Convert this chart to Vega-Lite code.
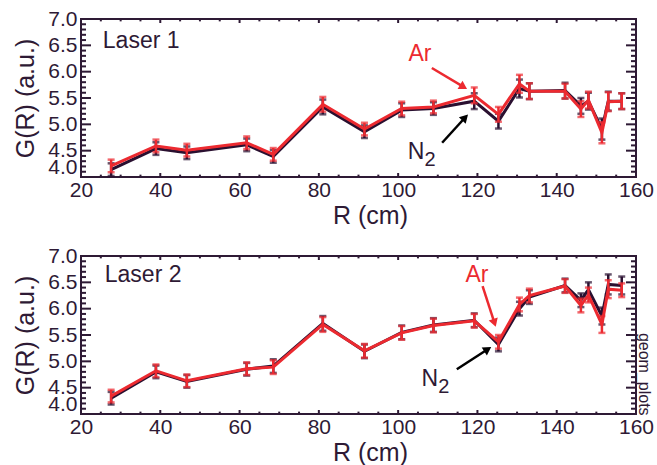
{
  "$schema": "https://vega.github.io/schema/vega-lite/v6.json",
  "background": "white",
  "padding": {"left": 12, "top": 7, "right": 0, "bottom": 0},
  "bounds": "flush",
  "spacing": 79,
  "config": {
    "view": {"stroke": "#2e1a35", "strokeWidth": 2},
    "font": "Liberation Sans",
    "axis": {"grid": false, "domain": false, "ticks": false, "labelFont": "Liberation Sans", "labelFontSize": 21, "labelColor": "#2e1a35", "titleFont": "Liberation Sans", "titleFontWeight": "normal", "titleColor": "#2e1a35", "labelFlush": false, "labelOverlap": false},
    "text": {"font": "Liberation Sans"}
  },
  "datasets": {
    "pts": [
      {"laser":"1","gas":"Ar","R":27.6,"G":4.21,"err":0.12},{"laser":"1","gas":"Ar","R":38.9,"G":4.59,"err":0.12},{"laser":"1","gas":"Ar","R":46.7,"G":4.51,"err":0.12},{"laser":"1","gas":"Ar","R":61.8,"G":4.65,"err":0.12},{"laser":"1","gas":"Ar","R":68.5,"G":4.43,"err":0.12},{"laser":"1","gas":"Ar","R":81.0,"G":5.38,"err":0.14},{"laser":"1","gas":"Ar","R":91.5,"G":4.91,"err":0.12},{"laser":"1","gas":"Ar","R":100.9,"G":5.30,"err":0.13},{"laser":"1","gas":"Ar","R":108.9,"G":5.33,"err":0.12},{"laser":"1","gas":"Ar","R":119.2,"G":5.55,"err":0.15},{"laser":"1","gas":"Ar","R":125.3,"G":5.19,"err":0.14},{"laser":"1","gas":"Ar","R":130.6,"G":5.77,"err":0.17},{"laser":"1","gas":"Ar","R":133.1,"G":5.63,"err":0.15},{"laser":"1","gas":"Ar","R":142.1,"G":5.63,"err":0.14},{"laser":"1","gas":"Ar","R":146.1,"G":5.29,"err":0.15},{"laser":"1","gas":"Ar","R":148.0,"G":5.46,"err":0.16},{"laser":"1","gas":"Ar","R":151.4,"G":4.84,"err":0.2},{"laser":"1","gas":"Ar","R":153.0,"G":5.43,"err":0.18},{"laser":"1","gas":"Ar","R":156.4,"G":5.44,"err":0.15},
      {"laser":"1","gas":"N2","R":27.6,"G":4.14,"err":0.12},{"laser":"1","gas":"N2","R":38.9,"G":4.54,"err":0.12},{"laser":"1","gas":"N2","R":46.7,"G":4.46,"err":0.12},{"laser":"1","gas":"N2","R":61.8,"G":4.61,"err":0.12},{"laser":"1","gas":"N2","R":68.5,"G":4.39,"err":0.12},{"laser":"1","gas":"N2","R":81.0,"G":5.33,"err":0.14},{"laser":"1","gas":"N2","R":91.5,"G":4.86,"err":0.12},{"laser":"1","gas":"N2","R":100.9,"G":5.27,"err":0.13},{"laser":"1","gas":"N2","R":108.9,"G":5.30,"err":0.12},{"laser":"1","gas":"N2","R":119.2,"G":5.44,"err":0.15},{"laser":"1","gas":"N2","R":125.3,"G":5.06,"err":0.14},{"laser":"1","gas":"N2","R":130.6,"G":5.68,"err":0.17},{"laser":"1","gas":"N2","R":133.1,"G":5.63,"err":0.15},{"laser":"1","gas":"N2","R":142.1,"G":5.64,"err":0.15},{"laser":"1","gas":"N2","R":146.1,"G":5.35,"err":0.15},{"laser":"1","gas":"N2","R":148.0,"G":5.44,"err":0.16},{"laser":"1","gas":"N2","R":151.4,"G":4.91,"err":0.2},{"laser":"1","gas":"N2","R":153.0,"G":5.44,"err":0.18},{"laser":"1","gas":"N2","R":156.4,"G":5.44,"err":0.15},
      {"laser":"2","gas":"Ar","R":27.6,"G":4.34,"err":0.12},{"laser":"2","gas":"Ar","R":38.9,"G":4.82,"err":0.12},{"laser":"2","gas":"Ar","R":46.7,"G":4.63,"err":0.12},{"laser":"2","gas":"Ar","R":61.8,"G":4.86,"err":0.12},{"laser":"2","gas":"Ar","R":68.5,"G":4.89,"err":0.13},{"laser":"2","gas":"Ar","R":81.0,"G":5.70,"err":0.14},{"laser":"2","gas":"Ar","R":91.5,"G":5.20,"err":0.13},{"laser":"2","gas":"Ar","R":100.9,"G":5.54,"err":0.13},{"laser":"2","gas":"Ar","R":108.9,"G":5.68,"err":0.13},{"laser":"2","gas":"Ar","R":119.2,"G":5.77,"err":0.13},{"laser":"2","gas":"Ar","R":125.3,"G":5.37,"err":0.13},{"laser":"2","gas":"Ar","R":130.6,"G":6.08,"err":0.13},{"laser":"2","gas":"Ar","R":133.1,"G":6.25,"err":0.13},{"laser":"2","gas":"Ar","R":142.1,"G":6.43,"err":0.13},{"laser":"2","gas":"Ar","R":146.1,"G":6.06,"err":0.13},{"laser":"2","gas":"Ar","R":148.0,"G":6.26,"err":0.14},{"laser":"2","gas":"Ar","R":151.4,"G":5.70,"err":0.16},{"laser":"2","gas":"Ar","R":153.0,"G":6.37,"err":0.17},{"laser":"2","gas":"Ar","R":156.4,"G":6.35,"err":0.13},
      {"laser":"2","gas":"N2","R":27.6,"G":4.30,"err":0.12},{"laser":"2","gas":"N2","R":38.9,"G":4.80,"err":0.12},{"laser":"2","gas":"N2","R":46.7,"G":4.62,"err":0.12},{"laser":"2","gas":"N2","R":61.8,"G":4.85,"err":0.12},{"laser":"2","gas":"N2","R":68.5,"G":4.91,"err":0.13},{"laser":"2","gas":"N2","R":81.0,"G":5.72,"err":0.14},{"laser":"2","gas":"N2","R":91.5,"G":5.19,"err":0.13},{"laser":"2","gas":"N2","R":100.9,"G":5.55,"err":0.13},{"laser":"2","gas":"N2","R":108.9,"G":5.69,"err":0.13},{"laser":"2","gas":"N2","R":119.2,"G":5.78,"err":0.13},{"laser":"2","gas":"N2","R":125.3,"G":5.32,"err":0.13},{"laser":"2","gas":"N2","R":130.6,"G":6.00,"err":0.13},{"laser":"2","gas":"N2","R":133.1,"G":6.22,"err":0.13},{"laser":"2","gas":"N2","R":142.1,"G":6.44,"err":0.13},{"laser":"2","gas":"N2","R":146.1,"G":6.16,"err":0.13},{"laser":"2","gas":"N2","R":148.0,"G":6.36,"err":0.14},{"laser":"2","gas":"N2","R":151.4,"G":5.86,"err":0.16},{"laser":"2","gas":"N2","R":153.0,"G":6.46,"err":0.19},{"laser":"2","gas":"N2","R":156.4,"G":6.44,"err":0.17}
    ],
    "yticks": [
      {"v":4.0,"kind":"major"},{"v":4.1,"kind":"minor"},{"v":4.2,"kind":"minor"},{"v":4.3,"kind":"minor"},{"v":4.4,"kind":"minor"},{"v":4.5,"kind":"major"},{"v":4.6,"kind":"minor"},{"v":4.7,"kind":"minor"},{"v":4.8,"kind":"minor"},{"v":4.9,"kind":"minor"},{"v":5.0,"kind":"major"},{"v":5.1,"kind":"minor"},{"v":5.2,"kind":"minor"},{"v":5.3,"kind":"minor"},{"v":5.4,"kind":"minor"},{"v":5.5,"kind":"major"},{"v":5.6,"kind":"minor"},{"v":5.7,"kind":"minor"},{"v":5.8,"kind":"minor"},{"v":5.9,"kind":"minor"},{"v":6.0,"kind":"major"},{"v":6.1,"kind":"minor"},{"v":6.2,"kind":"minor"},{"v":6.3,"kind":"minor"},{"v":6.4,"kind":"minor"},{"v":6.5,"kind":"major"},{"v":6.6,"kind":"minor"},{"v":6.7,"kind":"minor"},{"v":6.8,"kind":"minor"},{"v":6.9,"kind":"minor"},{"v":7.0,"kind":"major"}
    ],
    "xticks": [
      {"v":20,"kind":"major"},{"v":25,"kind":"minor"},{"v":30,"kind":"minor"},{"v":35,"kind":"minor"},{"v":40,"kind":"major"},{"v":45,"kind":"minor"},{"v":50,"kind":"minor"},{"v":55,"kind":"minor"},{"v":60,"kind":"major"},{"v":65,"kind":"minor"},{"v":70,"kind":"minor"},{"v":75,"kind":"minor"},{"v":80,"kind":"major"},{"v":85,"kind":"minor"},{"v":90,"kind":"minor"},{"v":95,"kind":"minor"},{"v":100,"kind":"major"},{"v":105,"kind":"minor"},{"v":110,"kind":"minor"},{"v":115,"kind":"minor"},{"v":120,"kind":"major"},{"v":125,"kind":"minor"},{"v":130,"kind":"minor"},{"v":135,"kind":"minor"},{"v":140,"kind":"major"},{"v":145,"kind":"minor"},{"v":150,"kind":"minor"},{"v":155,"kind":"minor"},{"v":160,"kind":"major"}
    ],
    "arrows": [
      {"laser":"1","gas":"Ar","R":108.5,"G":6.07,"R2":116.5,"G2":5.71},
      {"laser":"1","gas":"N2","R":111.1,"G":4.65,"R2":116.9,"G2":5.13},
      {"laser":"2","gas":"Ar","R":121.3,"G":6.43,"R2":124.3,"G2":5.73},
      {"laser":"2","gas":"N2","R":114.8,"G":4.85,"R2":122.6,"G2":5.23}
    ],
    "labels": [
      {"laser":"1","text":"Ar","R":105.5,"G":6.33},
      {"laser":"1","text":"N","R":104.5,"G":4.47},
      {"laser":"2","text":"Ar","R":119.9,"G":6.63},
      {"laser":"2","text":"N","R":108.0,"G":4.66}
    ],
    "panels": [
      {"laser":"1","text":"Laser 1","R":25.5,"G":6.58},
      {"laser":"2","text":"Laser 2","R":26.0,"G":6.64}
    ],
    "tag": [
      {"laser":"2","text":"geom_plots","R":161.9,"G":5.54}
    ]
  },
  "vconcat": [
    {
      "width": 555, "height": 158,
      "resolve": {"axis": {"x": "independent", "y": "independent"}},
      "layer": [
        {
          "data": {"name": "pts"},
          "transform": [{"filter": "datum.laser === '1' && datum.gas === 'N2'"}],
          "mark": {"type": "line", "color": "#2a1030", "strokeWidth": 3},
          "encoding": {
            "x": {"field": "R", "type": "quantitative", "scale": {"domain": [20, 160], "nice": false, "zero": false},
              "axis": {"orient": "bottom", "values": [20,40,60,80,100,120,140,160], "format": "d",
                "labelPadding": 2, "title": "R (cm)", "titleFontSize": 25, "titlePadding": 3, "titleX": 289}},
            "y": {"field": "G", "type": "quantitative", "scale": {"domain": [4, 7], "nice": false, "zero": false},
              "axis": {"orient": "left", "values": [4.5,5.0,5.5,6.0,6.5,7.0], "format": ".1f", "labelPadding": 4,
                "title": "G(R) (a.u.)", "titleFontSize": 25, "titlePadding": 9}}
          }
        },
        {
          "data": {"name": "pts"},
          "transform": [{"filter": "datum.laser === '1' && datum.gas === 'N2'"}],
          "mark": {"type": "errorbar", "ticks": true, "size": 7, "thickness": 2.5, "color": "#2a1030"},
          "encoding": {
            "x": {"field": "R", "type": "quantitative", "axis": null},
            "y": {"field": "G", "type": "quantitative", "axis": null},
            "yError": {"field": "err"}
          }
        },
        {
          "data": {"name": "pts"},
          "transform": [{"filter": "datum.laser === '1' && datum.gas === 'Ar'"}],
          "mark": {"type": "line", "color": "#ec2a30", "strokeWidth": 3},
          "encoding": {
            "x": {"field": "R", "type": "quantitative", "axis": null},
            "y": {"field": "G", "type": "quantitative",
              "axis": {"orient": "left", "values": [4.0], "format": ".1f", "labelPadding": 4, "labelBaseline": "bottom", "title": null}}
          }
        },
        {
          "data": {"name": "pts"},
          "transform": [{"filter": "datum.laser === '1' && datum.gas === 'Ar'"}],
          "mark": {"type": "errorbar", "ticks": true, "size": 7, "thickness": 2.5, "color": "#ec2a30"},
          "encoding": {
            "x": {"field": "R", "type": "quantitative", "axis": null},
            "y": {"field": "G", "type": "quantitative", "axis": null},
            "yError": {"field": "err"}
          }
        },
        {
          "data": {"name": "arrows"},
          "transform": [{"filter": "datum.laser === '1' && datum.gas === 'Ar'"}],
          "mark": {"type": "rule", "strokeWidth": 2.5, "color": "#ec2a30"},
          "encoding": {
            "x": {"field": "R", "type": "quantitative", "axis": null},
            "y": {"field": "G", "type": "quantitative", "axis": null},
            "x2": {"field": "R2"}, "y2": {"field": "G2"}
          }
        },
        {
          "data": {"name": "arrows"},
          "transform": [{"filter": "datum.laser === '1' && datum.gas === 'N2'"}],
          "mark": {"type": "rule", "strokeWidth": 2.5, "color": "#000000"},
          "encoding": {
            "x": {"field": "R", "type": "quantitative", "axis": null},
            "y": {"field": "G", "type": "quantitative", "axis": null},
            "x2": {"field": "R2"}, "y2": {"field": "G2"}
          }
        },
        {
          "data": {"name": "arrows"},
          "transform": [{"filter": "datum.laser === '1' && datum.gas === 'Ar'"}],
          "mark": {"type": "point", "shape": "triangle-up", "filled": true, "opacity": 1, "size": 90, "angle": 121, "color": "#ec2a30"},
          "encoding": {
            "x": {"field": "R2", "type": "quantitative", "axis": null},
            "y": {"field": "G2", "type": "quantitative", "axis": null}
          }
        },
        {
          "data": {"name": "arrows"},
          "transform": [{"filter": "datum.laser === '1' && datum.gas === 'N2'"}],
          "mark": {"type": "point", "shape": "triangle-up", "filled": true, "opacity": 1, "size": 90, "angle": 44, "color": "#000000"},
          "encoding": {
            "x": {"field": "R2", "type": "quantitative", "axis": null},
            "y": {"field": "G2", "type": "quantitative", "axis": null}
          }
        },
        {
          "data": {"name": "labels"},
          "transform": [{"filter": "datum.laser === '1' && datum.text === 'Ar'"}],
          "mark": {"type": "text", "fontSize": 23, "align": "center", "baseline": "middle", "color": "#ec2a30"},
          "encoding": {
            "x": {"field": "R", "type": "quantitative", "axis": null},
            "y": {"field": "G", "type": "quantitative", "axis": null},
            "text": {"field": "text"}
          }
        },
        {
          "data": {"name": "labels"},
          "transform": [{"filter": "datum.laser === '1' && datum.text === 'N'"}],
          "mark": {"type": "text", "fontSize": 23, "align": "center", "baseline": "middle", "color": "#2e1a35"},
          "encoding": {
            "x": {"field": "R", "type": "quantitative", "axis": null},
            "y": {"field": "G", "type": "quantitative", "axis": null},
            "text": {"field": "text"}
          }
        },
        {
          "data": {"name": "labels"},
          "transform": [{"filter": "datum.laser === '1' && datum.text === 'N'"}],
          "mark": {"type": "text", "fontSize": 20, "align": "center", "baseline": "middle", "dx": 14, "dy": 8, "color": "#2e1a35"},
          "encoding": {
            "x": {"field": "R", "type": "quantitative", "axis": null},
            "y": {"field": "G", "type": "quantitative", "axis": null},
            "text": {"value": "2"}
          }
        },
        {
          "data": {"name": "panels"},
          "transform": [{"filter": "datum.laser === '1'"}],
          "mark": {"type": "text", "fontSize": 23, "align": "left", "baseline": "middle", "color": "#2e1a35"},
          "encoding": {
            "x": {"field": "R", "type": "quantitative", "axis": null},
            "y": {"field": "G", "type": "quantitative", "axis": null},
            "text": {"field": "text"}
          }
        },
        {
          "data": {"name": "yticks"},
          "transform": [{"filter": "datum.kind === 'major'"}],
          "mark": {"type": "rule", "strokeWidth": 2, "color": "#2e1a35"},
          "encoding": {"x": {"datum": 20, "type": "quantitative", "axis": null}, "x2": {"datum": 22.52}, "y": {"field": "v", "type": "quantitative", "axis": null}}
        },
        {
          "data": {"name": "yticks"},
          "transform": [{"filter": "datum.kind === 'minor'"}],
          "mark": {"type": "rule", "strokeWidth": 2, "color": "#2e1a35"},
          "encoding": {"x": {"datum": 20, "type": "quantitative", "axis": null}, "x2": {"datum": 21.26}, "y": {"field": "v", "type": "quantitative", "axis": null}}
        },
        {
          "data": {"name": "yticks"},
          "transform": [{"filter": "datum.kind === 'major'"}],
          "mark": {"type": "rule", "strokeWidth": 2, "color": "#2e1a35"},
          "encoding": {"x": {"datum": 160, "type": "quantitative", "axis": null}, "x2": {"datum": 157.48}, "y": {"field": "v", "type": "quantitative", "axis": null}}
        },
        {
          "data": {"name": "yticks"},
          "transform": [{"filter": "datum.kind === 'minor'"}],
          "mark": {"type": "rule", "strokeWidth": 2, "color": "#2e1a35"},
          "encoding": {"x": {"datum": 160, "type": "quantitative", "axis": null}, "x2": {"datum": 158.74}, "y": {"field": "v", "type": "quantitative", "axis": null}}
        },
        {
          "data": {"name": "xticks"},
          "transform": [{"filter": "datum.kind === 'major'"}],
          "mark": {"type": "rule", "strokeWidth": 2, "color": "#2e1a35"},
          "encoding": {"y": {"datum": 4, "type": "quantitative", "axis": null}, "y2": {"datum": 4.076}, "x": {"field": "v", "type": "quantitative", "axis": null}}
        },
        {
          "data": {"name": "xticks"},
          "transform": [{"filter": "datum.kind === 'minor'"}],
          "mark": {"type": "rule", "strokeWidth": 2, "color": "#2e1a35"},
          "encoding": {"y": {"datum": 4, "type": "quantitative", "axis": null}, "y2": {"datum": 4.045}, "x": {"field": "v", "type": "quantitative", "axis": null}}
        },
        {
          "data": {"name": "xticks"},
          "transform": [{"filter": "datum.kind === 'major'"}],
          "mark": {"type": "rule", "strokeWidth": 2, "color": "#2e1a35"},
          "encoding": {"y": {"datum": 7, "type": "quantitative", "axis": null}, "y2": {"datum": 6.924}, "x": {"field": "v", "type": "quantitative", "axis": null}}
        },
        {
          "data": {"name": "xticks"},
          "transform": [{"filter": "datum.kind === 'minor'"}],
          "mark": {"type": "rule", "strokeWidth": 2, "color": "#2e1a35"},
          "encoding": {"y": {"datum": 7, "type": "quantitative", "axis": null}, "y2": {"datum": 6.955}, "x": {"field": "v", "type": "quantitative", "axis": null}}
        }
      ]
    },
    {
      "width": 555, "height": 158,
      "resolve": {"axis": {"x": "independent", "y": "independent"}},
      "layer": [
        {
          "data": {"name": "pts"},
          "transform": [{"filter": "datum.laser === '2' && datum.gas === 'N2'"}],
          "mark": {"type": "line", "color": "#2a1030", "strokeWidth": 3},
          "encoding": {
            "x": {"field": "R", "type": "quantitative", "scale": {"domain": [20, 160], "nice": false, "zero": false},
              "axis": {"orient": "bottom", "values": [20,40,60,80,100,120,140,160], "format": "d",
                "labelPadding": 2, "title": "R (cm)", "titleFontSize": 25, "titlePadding": 3, "titleX": 289}},
            "y": {"field": "G", "type": "quantitative", "scale": {"domain": [4, 7], "nice": false, "zero": false},
              "axis": {"orient": "left", "values": [4.5,5.0,5.5,6.0,6.5,7.0], "format": ".1f", "labelPadding": 4,
                "title": "G(R) (a.u.)", "titleFontSize": 25, "titlePadding": 9}}
          }
        },
        {
          "data": {"name": "pts"},
          "transform": [{"filter": "datum.laser === '2' && datum.gas === 'N2'"}],
          "mark": {"type": "errorbar", "ticks": true, "size": 7, "thickness": 2.5, "color": "#2a1030"},
          "encoding": {
            "x": {"field": "R", "type": "quantitative", "axis": null},
            "y": {"field": "G", "type": "quantitative", "axis": null},
            "yError": {"field": "err"}
          }
        },
        {
          "data": {"name": "pts"},
          "transform": [{"filter": "datum.laser === '2' && datum.gas === 'Ar'"}],
          "mark": {"type": "line", "color": "#ec2a30", "strokeWidth": 3},
          "encoding": {
            "x": {"field": "R", "type": "quantitative", "axis": null},
            "y": {"field": "G", "type": "quantitative",
              "axis": {"orient": "left", "values": [4.0], "format": ".1f", "labelPadding": 4, "labelBaseline": "bottom", "title": null}}
          }
        },
        {
          "data": {"name": "pts"},
          "transform": [{"filter": "datum.laser === '2' && datum.gas === 'Ar'"}],
          "mark": {"type": "errorbar", "ticks": true, "size": 7, "thickness": 2.5, "color": "#ec2a30"},
          "encoding": {
            "x": {"field": "R", "type": "quantitative", "axis": null},
            "y": {"field": "G", "type": "quantitative", "axis": null},
            "yError": {"field": "err"}
          }
        },
        {
          "data": {"name": "arrows"},
          "transform": [{"filter": "datum.laser === '2' && datum.gas === 'Ar'"}],
          "mark": {"type": "rule", "strokeWidth": 2.5, "color": "#ec2a30"},
          "encoding": {
            "x": {"field": "R", "type": "quantitative", "axis": null},
            "y": {"field": "G", "type": "quantitative", "axis": null},
            "x2": {"field": "R2"}, "y2": {"field": "G2"}
          }
        },
        {
          "data": {"name": "arrows"},
          "transform": [{"filter": "datum.laser === '2' && datum.gas === 'N2'"}],
          "mark": {"type": "rule", "strokeWidth": 2.5, "color": "#000000"},
          "encoding": {
            "x": {"field": "R", "type": "quantitative", "axis": null},
            "y": {"field": "G", "type": "quantitative", "axis": null},
            "x2": {"field": "R2"}, "y2": {"field": "G2"}
          }
        },
        {
          "data": {"name": "arrows"},
          "transform": [{"filter": "datum.laser === '2' && datum.gas === 'Ar'"}],
          "mark": {"type": "point", "shape": "triangle-up", "filled": true, "opacity": 1, "size": 90, "angle": 162, "color": "#ec2a30"},
          "encoding": {
            "x": {"field": "R2", "type": "quantitative", "axis": null},
            "y": {"field": "G2", "type": "quantitative", "axis": null}
          }
        },
        {
          "data": {"name": "arrows"},
          "transform": [{"filter": "datum.laser === '2' && datum.gas === 'N2'"}],
          "mark": {"type": "point", "shape": "triangle-up", "filled": true, "opacity": 1, "size": 90, "angle": 57, "color": "#000000"},
          "encoding": {
            "x": {"field": "R2", "type": "quantitative", "axis": null},
            "y": {"field": "G2", "type": "quantitative", "axis": null}
          }
        },
        {
          "data": {"name": "labels"},
          "transform": [{"filter": "datum.laser === '2' && datum.text === 'Ar'"}],
          "mark": {"type": "text", "fontSize": 23, "align": "center", "baseline": "middle", "color": "#ec2a30"},
          "encoding": {
            "x": {"field": "R", "type": "quantitative", "axis": null},
            "y": {"field": "G", "type": "quantitative", "axis": null},
            "text": {"field": "text"}
          }
        },
        {
          "data": {"name": "labels"},
          "transform": [{"filter": "datum.laser === '2' && datum.text === 'N'"}],
          "mark": {"type": "text", "fontSize": 23, "align": "center", "baseline": "middle", "color": "#2e1a35"},
          "encoding": {
            "x": {"field": "R", "type": "quantitative", "axis": null},
            "y": {"field": "G", "type": "quantitative", "axis": null},
            "text": {"field": "text"}
          }
        },
        {
          "data": {"name": "labels"},
          "transform": [{"filter": "datum.laser === '2' && datum.text === 'N'"}],
          "mark": {"type": "text", "fontSize": 20, "align": "center", "baseline": "middle", "dx": 14, "dy": 8, "color": "#2e1a35"},
          "encoding": {
            "x": {"field": "R", "type": "quantitative", "axis": null},
            "y": {"field": "G", "type": "quantitative", "axis": null},
            "text": {"value": "2"}
          }
        },
        {
          "data": {"name": "panels"},
          "transform": [{"filter": "datum.laser === '2'"}],
          "mark": {"type": "text", "fontSize": 23, "align": "left", "baseline": "middle", "color": "#2e1a35"},
          "encoding": {
            "x": {"field": "R", "type": "quantitative", "axis": null},
            "y": {"field": "G", "type": "quantitative", "axis": null},
            "text": {"field": "text"}
          }
        },
        {
          "data": {"name": "tag"},
          "mark": {"type": "text", "fontSize": 16, "align": "left", "baseline": "middle", "angle": 90, "color": "#2e1a35"},
          "encoding": {
            "x": {"field": "R", "type": "quantitative", "axis": null},
            "y": {"field": "G", "type": "quantitative", "axis": null},
            "text": {"field": "text"}
          }
        },
        {
          "data": {"name": "yticks"},
          "transform": [{"filter": "datum.kind === 'major'"}],
          "mark": {"type": "rule", "strokeWidth": 2, "color": "#2e1a35"},
          "encoding": {"x": {"datum": 20, "type": "quantitative", "axis": null}, "x2": {"datum": 22.52}, "y": {"field": "v", "type": "quantitative", "axis": null}}
        },
        {
          "data": {"name": "yticks"},
          "transform": [{"filter": "datum.kind === 'minor'"}],
          "mark": {"type": "rule", "strokeWidth": 2, "color": "#2e1a35"},
          "encoding": {"x": {"datum": 20, "type": "quantitative", "axis": null}, "x2": {"datum": 21.26}, "y": {"field": "v", "type": "quantitative", "axis": null}}
        },
        {
          "data": {"name": "yticks"},
          "transform": [{"filter": "datum.kind === 'major'"}],
          "mark": {"type": "rule", "strokeWidth": 2, "color": "#2e1a35"},
          "encoding": {"x": {"datum": 160, "type": "quantitative", "axis": null}, "x2": {"datum": 157.48}, "y": {"field": "v", "type": "quantitative", "axis": null}}
        },
        {
          "data": {"name": "yticks"},
          "transform": [{"filter": "datum.kind === 'minor'"}],
          "mark": {"type": "rule", "strokeWidth": 2, "color": "#2e1a35"},
          "encoding": {"x": {"datum": 160, "type": "quantitative", "axis": null}, "x2": {"datum": 158.74}, "y": {"field": "v", "type": "quantitative", "axis": null}}
        },
        {
          "data": {"name": "xticks"},
          "transform": [{"filter": "datum.kind === 'major'"}],
          "mark": {"type": "rule", "strokeWidth": 2, "color": "#2e1a35"},
          "encoding": {"y": {"datum": 4, "type": "quantitative", "axis": null}, "y2": {"datum": 4.076}, "x": {"field": "v", "type": "quantitative", "axis": null}}
        },
        {
          "data": {"name": "xticks"},
          "transform": [{"filter": "datum.kind === 'minor'"}],
          "mark": {"type": "rule", "strokeWidth": 2, "color": "#2e1a35"},
          "encoding": {"y": {"datum": 4, "type": "quantitative", "axis": null}, "y2": {"datum": 4.045}, "x": {"field": "v", "type": "quantitative", "axis": null}}
        },
        {
          "data": {"name": "xticks"},
          "transform": [{"filter": "datum.kind === 'major'"}],
          "mark": {"type": "rule", "strokeWidth": 2, "color": "#2e1a35"},
          "encoding": {"y": {"datum": 7, "type": "quantitative", "axis": null}, "y2": {"datum": 6.924}, "x": {"field": "v", "type": "quantitative", "axis": null}}
        },
        {
          "data": {"name": "xticks"},
          "transform": [{"filter": "datum.kind === 'minor'"}],
          "mark": {"type": "rule", "strokeWidth": 2, "color": "#2e1a35"},
          "encoding": {"y": {"datum": 7, "type": "quantitative", "axis": null}, "y2": {"datum": 6.955}, "x": {"field": "v", "type": "quantitative", "axis": null}}
        }
      ]
    }
  ]
}
